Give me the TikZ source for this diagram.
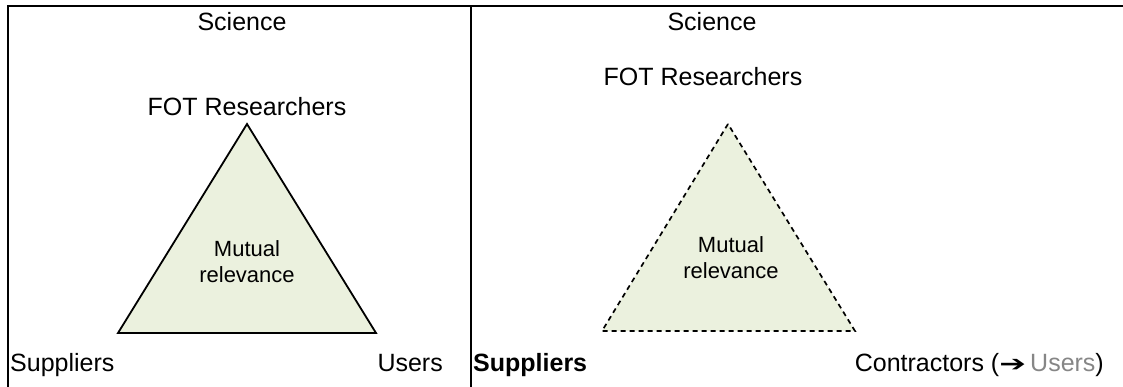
\documentclass[tikz,border=0pt]{standalone}
\usepackage{fontspec}
\setmainfont{Liberation Sans}
\newfontfamily\symfont{DejaVu Sans}
\definecolor{trifill}{HTML}{EBF1DE}
\definecolor{fadedgray}{HTML}{868686}
\newcommand{\widearrow}{{\symfont\fontsize{22}{26}\selectfont\scalebox{1.45}[1]{➔}}}
\begin{document}
\begin{tikzpicture}[x=1pt,y=-1pt,
  frameline/.style={line width=2pt},
  label/.style={font=\fontsize{25}{29}\selectfont, inner sep=0pt, anchor=base},
  centre/.style={font=\fontsize{22}{26}\selectfont, inner sep=0pt, anchor=base},
  solidtri/.style={draw, line width=1.8pt, fill=trifill, line join=miter},
  dashtri/.style={draw, line width=1.7pt, fill=trifill, dash pattern=on 5pt off 4pt, line join=miter}]
\useasboundingbox (0,0) rectangle (1123,387);

% table frame: top rule, left rule and the divider between the two cells
\draw[frameline] (8,387) -- (8,6) -- (1123,6);
\draw[frameline] (471,6) -- (471,387);

% left cell: solid triangle
\coordinate (la) at (247,124);
\coordinate (lb) at (118,333);
\coordinate (lc) at (376,333);
\path[solidtri] (la) -- (lb) -- (lc) -- cycle;

\node[label] (lsci) at (242,31) {Science};
\node[label] (lfot) at (247,116) {FOT Researchers};
\node[centre] (lmut) at (247,256) {Mutual};
\node[centre] (lrel) at (247,282) {relevance};
\node[label, anchor=base west] (lsup) at (10,371) {Suppliers};
\node[label, anchor=base east] (lusr) at (443,371) {Users};

% right cell: dashed triangle
\coordinate (ra) at (728,124);
\coordinate (rb) at (602,331);
\coordinate (rc) at (855,331);
\path[dashtri] (ra) -- (rb) -- (rc) -- cycle;

\node[label] (rsci) at (712,31) {Science};
\node[label] (rfot) at (703,86) {FOT Researchers};
\node[centre] (rmut) at (731,252) {Mutual};
\node[centre] (rrel) at (731,278) {relevance};
\node[label, anchor=base west, font=\fontsize{25}{29}\selectfont\bfseries] (rsup) at (473,371) {Suppliers};
\node[label, anchor=base east] (rcon) at (1104,371) {Contractors (\widearrow\,\textcolor{fadedgray}{Users})};
\end{tikzpicture}
\end{document}
